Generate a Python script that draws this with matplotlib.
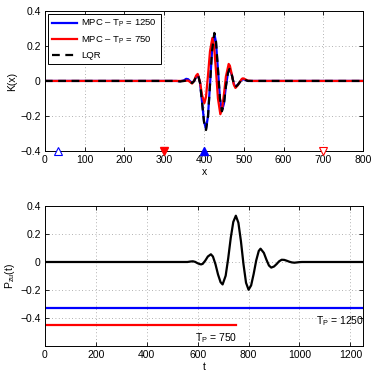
import numpy as np
import matplotlib
matplotlib.use("Agg")
import matplotlib.pyplot as plt

# ----------------------------------------------------------------------
# Data
# ----------------------------------------------------------------------
# top panel: gain kernel K(x)
x_lqr = [0, 330, 340, 350, 355, 360, 365, 370, 375, 380, 385, 390, 395, 400, 405,
         410, 415, 420, 426, 430, 435, 440, 445, 450, 455, 460, 464, 470, 475,
         479, 485, 490, 495, 498, 505, 510, 800]
k_lqr = [0, 0, -0.003, 0.0, 0.003, 0.003, -0.005, -0.012, -0.001, 0.023, 0.035,
         -0.011, -0.12, -0.234, -0.28, -0.204, -0.023, 0.169, 0.274, 0.227, 0.069,
         -0.101, -0.173, -0.133, -0.032, 0.044, 0.069, 0.033, -0.018, -0.035,
         -0.022, -0.007, 0.007, 0.010, 0.005, 0.0, 0]

x_1250 = x_lqr
k_1250 = [0, 0, -0.002, 0.004, 0.012, 0.010, -0.002, -0.010, -0.001, 0.022, 0.034,
          -0.012, -0.118, -0.230, -0.275, -0.200, -0.022, 0.165, 0.268, 0.222, 0.066,
          -0.100, -0.170, -0.130, -0.030, 0.045, 0.070, 0.034, -0.017, -0.034,
          -0.021, -0.006, 0.007, 0.010, 0.005, 0.0, 0]

x_750 = [0, 340, 350, 360, 365, 370, 375, 380, 384, 390, 395, 401, 405, 410, 415,
         421, 425, 430, 435, 441, 445, 450, 455, 462, 465, 470, 475, 479, 485,
         490, 495, 498, 505, 510, 520, 800]
k_750 = [0, 0, 0.0, 0.002, -0.006, -0.015, 0.001, 0.030, 0.040, -0.006, -0.080,
         -0.126, -0.091, 0.031, 0.169, 0.245, 0.204, 0.061, -0.100, -0.190, -0.165,
         -0.078, 0.025, 0.097, 0.087, 0.035, -0.022, -0.040, -0.025, -0.006, 0.012,
         0.015, 0.008, 0.002, 0, 0]

# actuator / sensor markers on the top panel
act_1250_x = [400]
sen_1250_x = [32]
act_750_x = [300]
sen_750_x = [700]

# bottom panel: P_zu(t)
t_p = [0, 550, 560, 570, 581, 590, 600, 610, 614, 620, 630, 640, 652, 660, 670,
       680, 690, 698, 710, 720, 730, 740, 750, 760, 770, 780, 790, 800, 810, 820,
       830, 840, 847, 860, 870, 880, 889, 900, 910, 920, 930, 940, 950, 960, 970,
       980, 990, 1000, 1010, 1250]
p_zu = [0, 0, 0, 0.003, 0.005, 0.001, -0.009, -0.016, -0.017, -0.013, 0.010, 0.039,
        0.055, 0.039, -0.016, -0.089, -0.144, -0.160, -0.098, 0.026, 0.172, 0.286,
        0.330, 0.280, 0.148, -0.016, -0.148, -0.198, -0.167, -0.085, 0.011, 0.079,
        0.095, 0.065, 0.017, -0.025, -0.040, -0.032, -0.015, 0.005, 0.016, 0.015,
        0.009, 0.002, -0.003, -0.005, -0.003, -0.001, 0, 0]

# prediction horizons
tp_vals = [1250, 750]
tp_levels = [-0.325, -0.452]

# ----------------------------------------------------------------------
plt.rcParams["font.family"] = ["Liberation Sans", "DejaVu Sans"]
plt.rcParams["mathtext.fontset"] = "custom"
plt.rcParams["mathtext.rm"] = "Liberation Sans"
plt.rcParams["mathtext.it"] = "Liberation Sans"
plt.rcParams["font.size"] = 7.5
plt.rcParams["axes.linewidth"] = 0.7


def matlab_axes(ax):
    ax.tick_params(direction="in", top=True, right=True, length=3, width=0.6,
                   labelsize=7.5, pad=3)
    ax.grid(True, ls=(0, (1, 3)), color="0.6", lw=0.6)
    ax.set_axisbelow(True)


fig = plt.figure(figsize=(3.74, 3.73), dpi=100)
ax1 = fig.add_axes([0.120, 0.595, 0.851, 0.376])
ax2 = fig.add_axes([0.120, 0.072, 0.851, 0.376])

# top panel
ax1.plot(x_1250, k_1250, color="#0000ff", lw=1.6, label=r"MPC – T$_{\mathrm{P}}$ = %d" % tp_vals[0])
ax1.plot(x_750, k_750, color="#ff0000", lw=1.6, label=r"MPC – T$_{\mathrm{P}}$ = %d" % tp_vals[1])
ax1.plot(x_lqr, k_lqr, color="k", lw=1.6, ls=(0, (3.5, 2.5)), label="LQR")
ax1.plot(sen_1250_x, [-0.4], "^", mfc="white", mec="#0000ff", ms=6, mew=0.8, clip_on=False, zorder=5)
ax1.plot(act_1250_x, [-0.4], "^", color="#0000ff", ms=6, clip_on=False, zorder=5)
ax1.plot(act_750_x, [-0.4], "v", color="#ff0000", ms=6, clip_on=False, zorder=5)
ax1.plot(sen_750_x, [-0.4], "v", mfc="white", mec="#ff0000", ms=6, mew=0.8, clip_on=False, zorder=5)
ax1.set_xlim(0, 800)
ax1.set_ylim(-0.4, 0.4)
ax1.set_xticks(np.arange(0, 801, 100))
ax1.set_yticks([-0.4, -0.2, 0, 0.2, 0.4])
ax1.set_yticklabels(["\u22120.4", "\u22120.2", "0", "0.2", "0.4"])
ax1.set_xlabel("x", labelpad=1)
ax1.set_ylabel("K(x)", labelpad=2)
matlab_axes(ax1)
leg = ax1.legend(loc="upper left", fancybox=False, framealpha=1, edgecolor="k",
                 fontsize=6.8, handlelength=2.7, labelspacing=0.55, borderaxespad=0.35,
                 handletextpad=0.4, borderpad=0.4)
leg.get_frame().set_linewidth(0.7)

# bottom panel
ax2.plot(t_p, p_zu, color="k", lw=1.6)
ax2.plot([0, tp_vals[0]], [tp_levels[0]] * 2, color="#0000ff", lw=1.6)
ax2.plot([0, tp_vals[1]], [tp_levels[1]] * 2, color="#ff0000", lw=1.6)
ax2.text(1255, -0.37, r"T$_{\mathrm{P}}$ = %d" % tp_vals[0], ha="right", va="top", fontsize=7.5)
ax2.text(672, -0.49, r"T$_{\mathrm{P}}$ = %d" % tp_vals[1], ha="center", va="top", fontsize=7.5)
ax2.set_xlim(0, 1250)
ax2.set_ylim(-0.6, 0.4)
ax2.set_xticks(np.arange(0, 1201, 200))
ax2.set_yticks([-0.4, -0.2, 0, 0.2, 0.4])
ax2.set_yticklabels(["\u22120.4", "\u22120.2", "0", "0.2", "0.4"])
ax2.set_xlabel("t", labelpad=1)
ax2.set_ylabel(r"P$_{\mathrm{zu}}$(t)", labelpad=2)
matlab_axes(ax2)

fig.savefig("out.png", dpi=100)
